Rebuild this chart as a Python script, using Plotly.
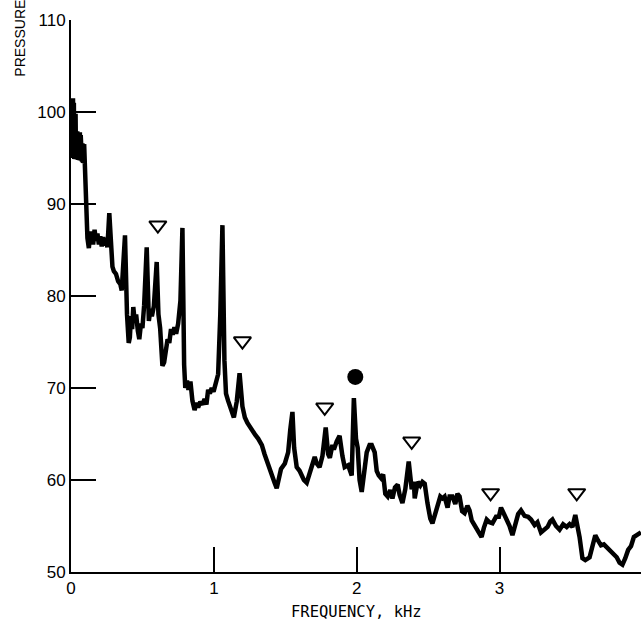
import plotly.graph_objects as go

freq_khz = [
    0.008, 0.011, 0.014, 0.017, 0.020, 0.023, 0.026, 0.029, 0.032, 0.035,
    0.038, 0.041, 0.044, 0.047, 0.050, 0.053, 0.056, 0.059, 0.062, 0.065,
    0.068, 0.071, 0.074, 0.077, 0.080, 0.083, 0.086, 0.089, 0.092, 0.095,
    0.098, 0.101, 0.106, 0.115, 0.125, 0.135, 0.145, 0.155,
    0.165, 0.175, 0.185, 0.195, 0.205, 0.215, 0.225, 0.235, 0.245, 0.255,
    0.268, 0.280, 0.290, 0.300, 0.315, 0.330, 0.345, 0.355, 0.367, 0.378,
    0.392, 0.404, 0.412, 0.420, 0.428, 0.436, 0.446, 0.456, 0.468, 0.478,
    0.490, 0.500, 0.512, 0.530, 0.545, 0.556, 0.566, 0.580, 0.600, 0.612,
    0.624, 0.640, 0.652, 0.664, 0.676, 0.688, 0.700, 0.712, 0.724, 0.736,
    0.750, 0.766, 0.780, 0.792, 0.800, 0.812, 0.822, 0.836, 0.850, 0.865,
    0.878, 0.890, 0.905, 0.920, 0.935, 0.948, 0.960, 0.972, 0.985, 0.998,
    1.010, 1.030, 1.045, 1.060, 1.074, 1.085, 1.100, 1.120, 1.140, 1.160,
    1.180, 1.200, 1.217, 1.235, 1.250, 1.270, 1.290, 1.310, 1.336, 1.355,
    1.375, 1.392, 1.405, 1.425, 1.440, 1.455, 1.470, 1.497, 1.520, 1.535,
    1.550, 1.562, 1.580, 1.600, 1.615, 1.630, 1.650, 1.668, 1.685, 1.706,
    1.720, 1.740, 1.760, 1.783, 1.800, 1.812, 1.830, 1.840, 1.860, 1.880,
    1.900, 1.916, 1.940, 1.965, 1.980, 1.995, 2.007, 2.020, 2.035, 2.050,
    2.070, 2.090, 2.105, 2.126, 2.140, 2.154, 2.170, 2.185, 2.200, 2.217,
    2.235, 2.250, 2.268, 2.287, 2.300, 2.320, 2.340, 2.364, 2.385, 2.400,
    2.406, 2.427, 2.445, 2.460, 2.476, 2.495, 2.515, 2.530, 2.545, 2.566,
    2.585, 2.600, 2.615, 2.636, 2.650, 2.670, 2.690, 2.705, 2.720, 2.738,
    2.755, 2.775, 2.790, 2.805, 2.820, 2.840, 2.860, 2.874, 2.890, 2.910,
    2.930, 2.950, 2.975, 2.995, 3.010, 3.030, 3.050, 3.070, 3.090, 3.110,
    3.130, 3.150, 3.175, 3.200, 3.220, 3.245, 3.265, 3.290, 3.310, 3.336,
    3.355, 3.370, 3.395, 3.420, 3.445, 3.470, 3.490, 3.510, 3.530, 3.545,
    3.560, 3.580, 3.600, 3.630, 3.650, 3.670, 3.690, 3.710, 3.730, 3.755,
    3.775, 3.800, 3.820, 3.840, 3.860, 3.880, 3.900, 3.920, 3.940, 3.960,
    3.990,
]

pressure_db = [
    101.3, 95.0, 101.5, 95.2, 101.0, 94.9, 100.8, 95.3, 99.8, 95.0,
    98.0, 95.2, 97.9, 94.8, 97.8, 95.0, 97.7, 94.9, 97.8, 95.0,
    97.5, 94.7, 96.7, 94.6, 96.6, 94.5, 96.6, 94.6, 96.5, 94.5,
    96.4, 94.6, 87.2, 86.3, 85.2, 87.0, 86.5, 85.6,
    87.2, 86.0, 86.8, 85.6, 86.5, 85.4, 86.4, 85.5, 86.0, 85.3,
    89.0, 84.2, 83.2, 82.7, 82.4, 81.6, 81.3, 80.6, 83.5, 86.6,
    78.0, 74.9, 75.5, 77.8, 76.4, 78.8, 77.2, 78.0, 76.2, 75.3,
    77.0, 76.5, 79.0, 85.3, 77.3, 78.6, 77.8, 78.9, 83.7, 78.0,
    76.5, 72.4, 72.8, 74.5, 75.3, 74.9, 76.4, 75.8, 76.6, 75.9,
    77.0, 79.5, 87.4, 72.5, 70.0, 70.8, 69.8, 70.7, 68.6, 67.6,
    68.4, 67.9, 68.5, 68.2, 68.8, 68.2, 69.8, 69.4, 70.0, 69.6,
    70.3, 71.5, 78.0, 87.7, 73.0, 69.4, 68.6, 67.6, 66.8, 68.5,
    71.6, 68.0, 66.8, 66.2, 65.8, 65.5, 64.9, 64.5, 63.8, 62.8,
    61.8, 61.0, 60.5, 59.7, 59.1, 60.4, 61.2, 61.8, 63.0, 65.5,
    67.4, 63.5, 61.4, 61.0, 60.4, 60.0, 59.7, 60.6, 61.6, 62.5,
    61.8, 61.4, 62.6, 65.7, 62.8, 62.4, 63.8, 63.3, 64.2, 64.8,
    62.6, 61.4, 61.6, 60.5, 68.9, 64.5, 63.5, 60.0, 58.7, 61.0,
    63.0, 63.8, 63.8, 63.0, 61.0, 60.5, 60.2, 60.6, 58.5, 58.2,
    58.9, 58.0, 59.2, 59.5, 58.4, 57.5, 59.0, 62.0, 59.0, 59.8,
    58.0, 59.8, 59.4, 59.8, 59.6, 57.5, 55.8, 55.3, 56.0, 57.0,
    58.2, 58.0, 58.2, 57.0, 58.2, 58.2, 57.4, 58.5, 58.2, 56.6,
    56.4, 57.2, 56.7, 55.6, 55.2, 54.6, 54.0, 53.8, 54.8, 55.7,
    55.4, 55.3, 56.0, 56.0, 57.0, 56.4, 55.7, 55.0, 54.0, 55.0,
    56.3, 56.7, 56.1, 56.0, 55.7, 55.1, 55.4, 54.3, 54.6, 54.9,
    55.5, 55.7, 55.0, 54.6, 55.2, 54.9, 55.2, 54.9, 56.2, 55.0,
    53.8, 51.5, 51.3, 51.6, 53.0, 54.0, 53.4, 52.9, 53.0, 52.6,
    52.3, 51.8, 51.6, 51.0, 50.8, 51.5, 52.4, 52.8, 53.8, 54.0,
    54.3,
]

triangle_x = [0.608, 1.20, 1.776, 2.385, 2.937, 3.54]
triangle_y = [87.7, 75.1, 67.9, 64.2, 58.6, 58.6]
circle_x = [1.99]
circle_y = [71.2]

y_ticks = [50, 60, 70, 80, 90, 100, 110]
x_ticks = [0, 1, 2, 3]

fig = go.Figure()
fig.add_trace(go.Scatter(x=freq_khz, y=pressure_db, mode="lines",
                         line=dict(color="black", width=4.5), showlegend=False))
fig.add_trace(go.Scatter(x=triangle_x, y=triangle_y, mode="markers",
                         marker=dict(symbol="triangle-down-open", size=15,
                                     color="black", line=dict(width=2, color="black")),
                         showlegend=False))
fig.add_trace(go.Scatter(x=circle_x, y=circle_y, mode="markers",
                         marker=dict(symbol="circle", size=16, color="black"),
                         showlegend=False))

tick_font = dict(family="Liberation Sans, Arial, sans-serif", size=17, color="black")

fig.update_layout(
    width=641, height=622,
    margin=dict(l=71, r=0, t=20, b=50),
    paper_bgcolor="white", plot_bgcolor="white",
    xaxis=dict(range=[0, 3.99], tickvals=x_ticks, ticktext=[str(v) for v in x_ticks],
               ticks="inside", ticklen=25, tickwidth=2, tickcolor="black",
               showline=True, linecolor="black", linewidth=2,
               showgrid=False, zeroline=False, tickfont=tick_font),
    yaxis=dict(range=[50, 110], tickvals=y_ticks, ticktext=[str(v) for v in y_ticks],
               ticks="inside", ticklen=25, tickwidth=2, tickcolor="black",
               showline=True, linecolor="black", linewidth=2,
               showgrid=False, zeroline=False, tickfont=tick_font),
    annotations=[
        dict(text="FREQUENCY, kHz", x=2.0, xref="x", y=0, yref="paper",
             yanchor="top", yshift=-29, showarrow=False,
             font=dict(family="DejaVu Sans Mono", size=15.5, color="black")),
        dict(text="PRESSURE", x=-0.091, xref="paper", y=0.893, yref="paper",
             xanchor="center", yanchor="bottom", textangle=-90, showarrow=False,
             font=dict(family="Liberation Sans, Arial, sans-serif", size=14, color="black")),
    ],
)

fig.write_html("out.html")
